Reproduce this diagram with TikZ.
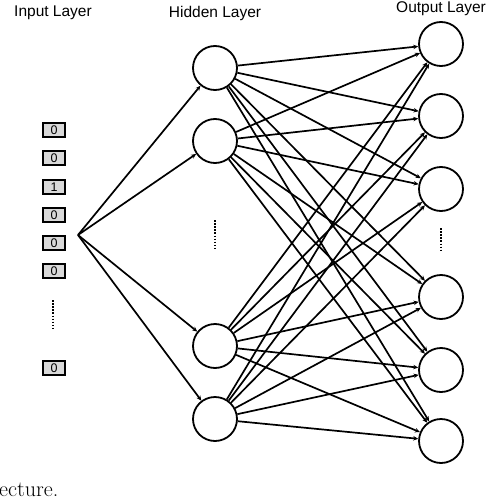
\documentclass[tikz,border=0pt]{standalone}
\usepackage{fontspec}
\setmainfont{Latin Modern Roman}
\newfontfamily\labfont{Liberation Sans}
\usetikzlibrary{arrows.meta}
\begin{document}
\begin{tikzpicture}[x=1pt,y=-1pt,
  neuron/.style={circle,draw,line width=1.8pt,minimum size=44pt,inner sep=0pt},
  bit/.style={draw,line width=1.8pt,fill=black!15,minimum width=22pt,minimum height=14pt,inner sep=0pt,font=\labfont\fontsize{12.5}{12.5}\selectfont},
  conn/.style={line width=1.7pt,-{Stealth[length=5pt,width=4.5pt]}},
  lab/.style={font=\labfont\fontsize{15.5}{15.5}\selectfont}]
\useasboundingbox (0,0) rectangle (488,500);
% labels
\node[lab] (li) at (53,13) {Input Layer};
\node[lab] (lh) at (215,13) {Hidden Layer};
\node[lab] (lo) at (441,9) {Output Layer};
% input bits
\node[bit] (b1) at (54,130) {0};
\node[bit] (b2) at (54,158) {0};
\node[bit] (b3) at (54,187) {1};
\node[bit] (b4) at (54,215) {0};
\node[bit] (b5) at (54,243) {0};
\node[bit] (b6) at (54,271) {0};
\node[bit] (b7) at (54,368) {0};
\coordinate (d1) at (53,300);
\coordinate (d2) at (53,328);
\draw[line width=1.6pt,dash pattern=on 1.5pt off 1.6pt] (d1) -- (d2);
% fan point
\coordinate (f) at (78,235);
% hidden
\node[neuron] (h1) at (215,68) {};
\node[neuron] (h2) at (215,141) {};
\node[neuron] (h3) at (215,346) {};
\node[neuron] (h4) at (215,419) {};
\coordinate (hd1) at (215,220);
\coordinate (hd2) at (215,250);
\draw[line width=1.6pt,dash pattern=on 1.5pt off 1.6pt] (hd1) -- (hd2);
% output
\node[neuron] (o1) at (441,44) {};
\node[neuron] (o2) at (441,116) {};
\node[neuron] (o3) at (441,189) {};
\node[neuron] (o4) at (441,297) {};
\node[neuron] (o5) at (441,370) {};
\node[neuron] (o6) at (441,441) {};
\coordinate (od1) at (441,228);
\coordinate (od2) at (441,252);
\draw[line width=1.6pt,dash pattern=on 1.5pt off 1.6pt] (od1) -- (od2);
% input to hidden
\foreach \h in {h1,h2,h3,h4} \draw[conn] (f) -- (\h);
% hidden to output
\foreach \h in {h1,h2,h3,h4}
  \foreach \o in {o1,o2,o3,o4,o5,o6}
    \draw[conn] (\h) -- (\o);
% caption fragment
\node[anchor=base west,inner sep=0pt,font=\fontsize{22}{22}\selectfont] (cap) at (-1,496) {ecture.};
\end{tikzpicture}
\end{document}
